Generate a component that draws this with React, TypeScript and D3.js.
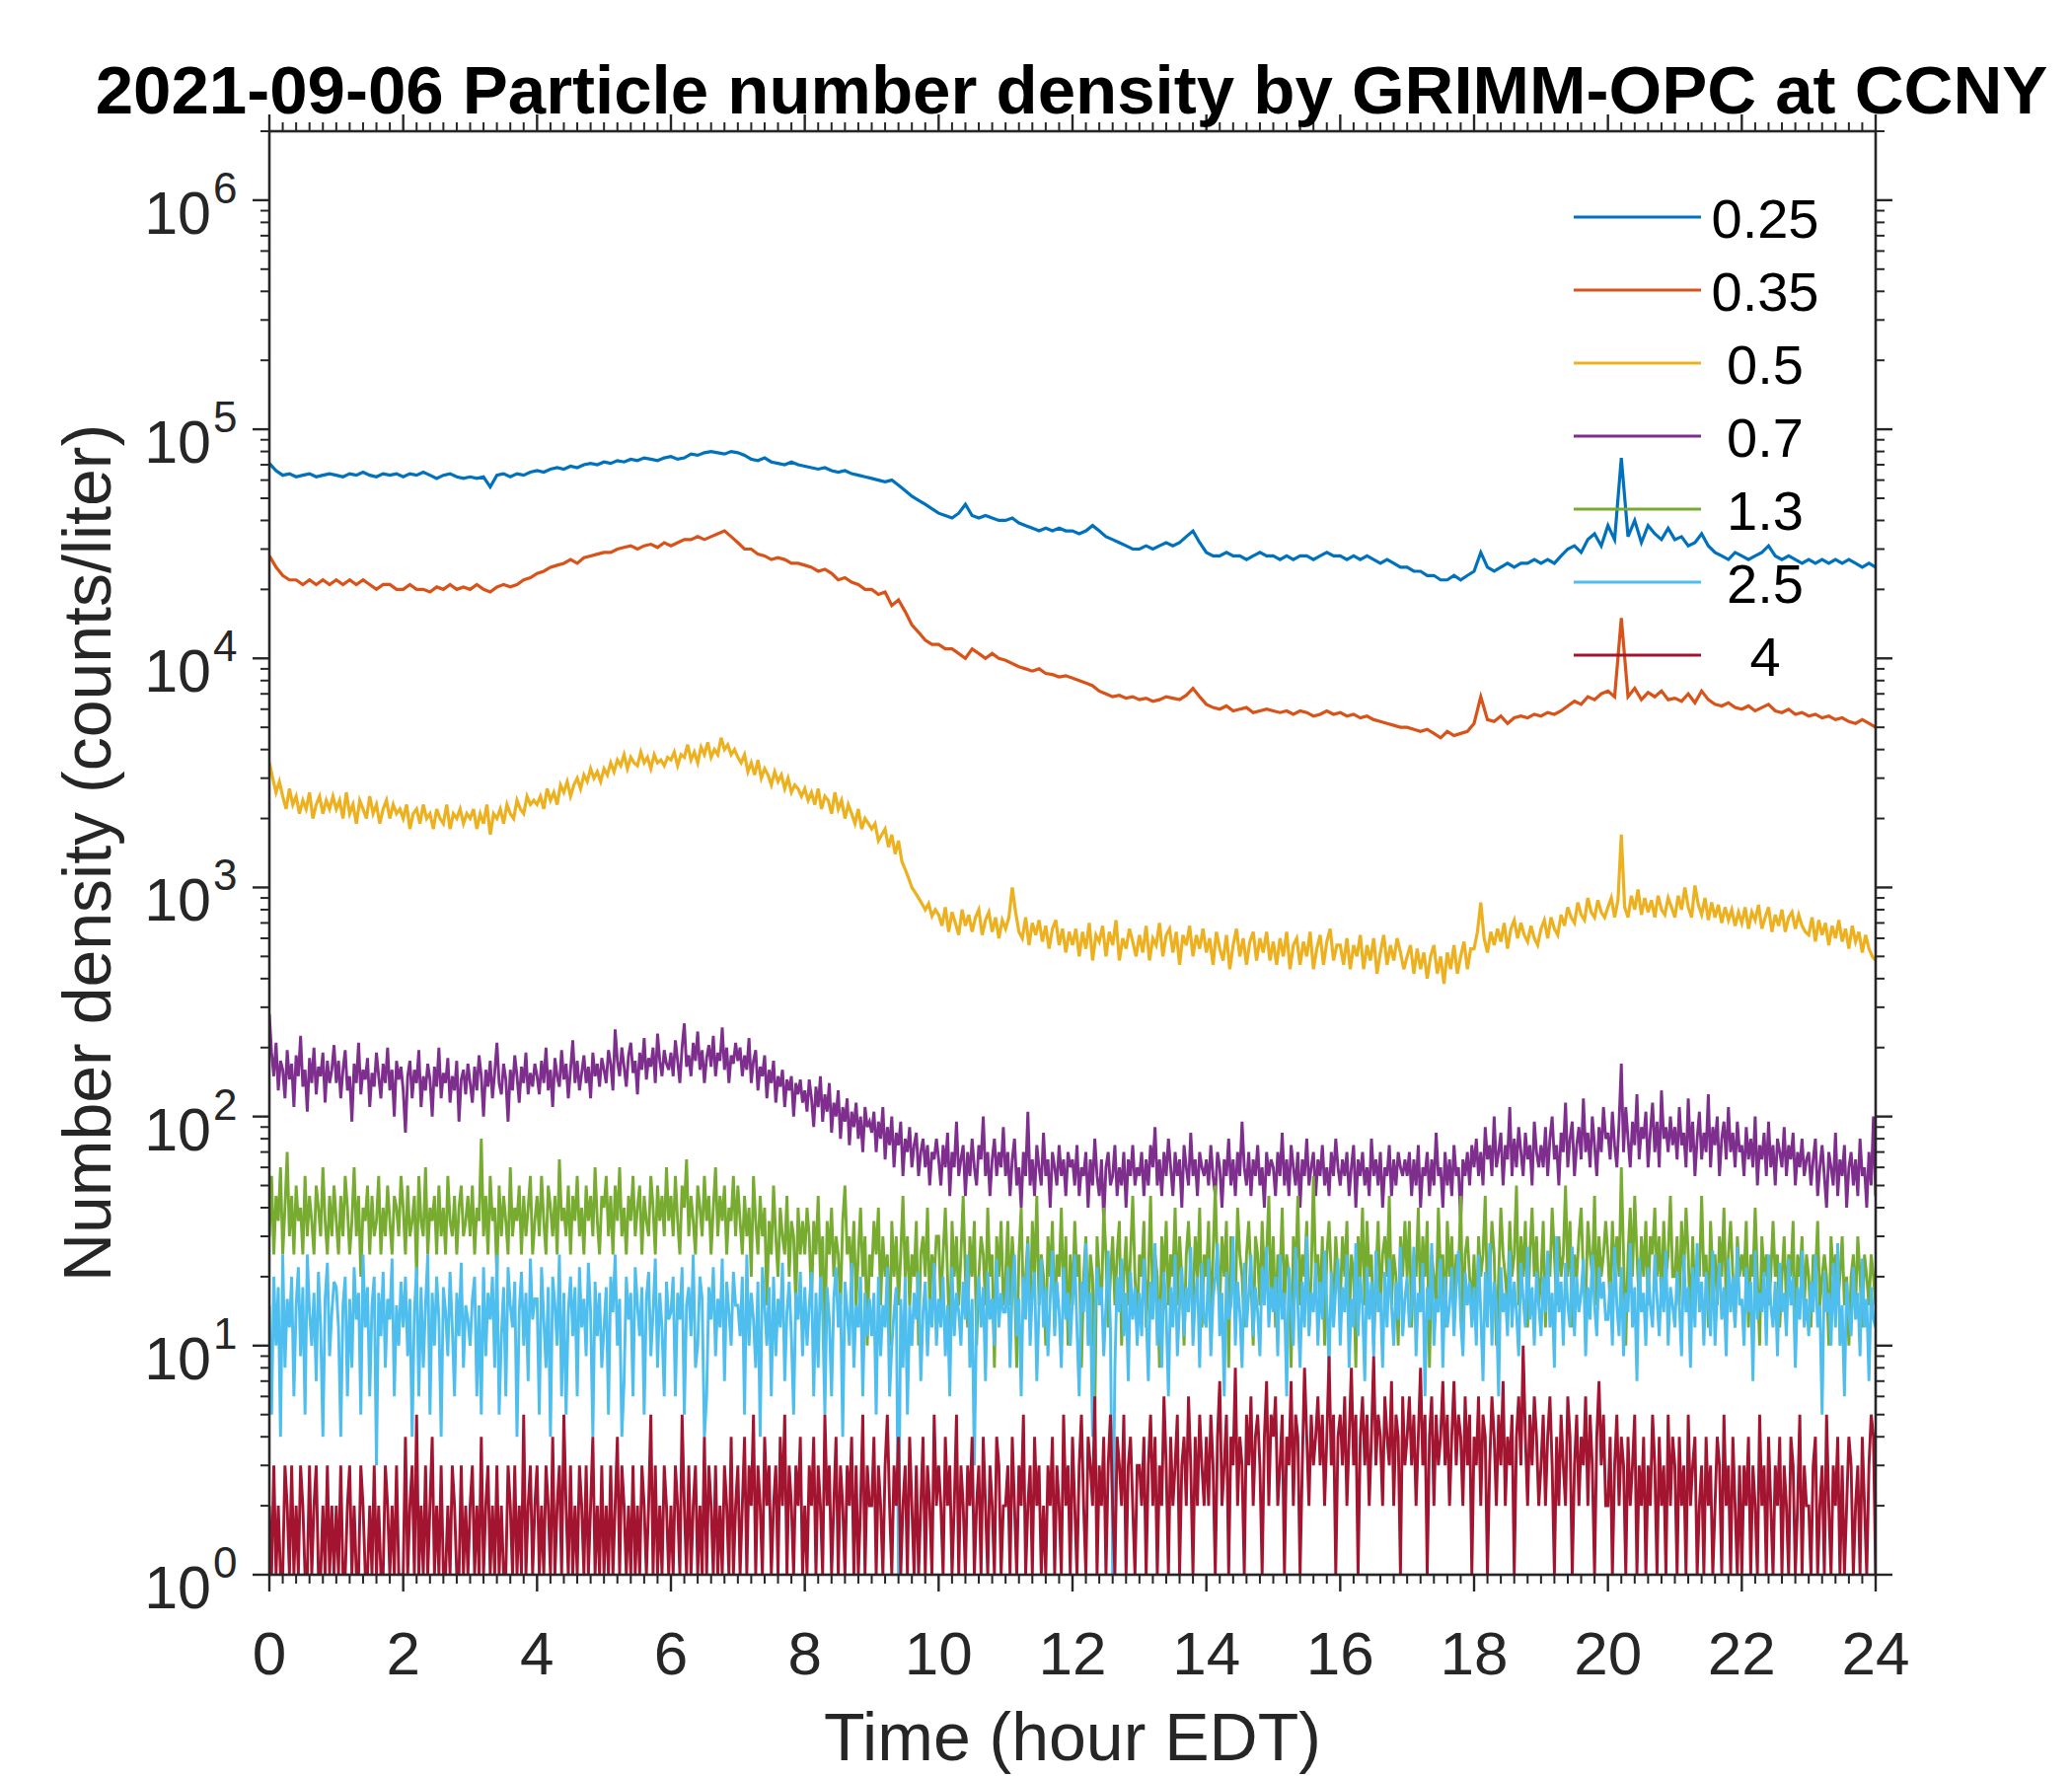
import React from 'react'
import * as d3 from 'd3'

// sizes in micrometres, one series each
const sizeLabels = ['0.25', '0.35', '0.5', '0.7', '1.3', '2.5', '4']
const colors = ['#0072BD', '#D95319', '#EDB120', '#7E2F8E', '#77AC30', '#4DBEEE', '#A2142F']

// every channel is stored as one row per hour (row h covers h .. h+1),
// the last row holds the single reading at 24 h

const ch025 = [
    [71000, 66000, 63000, 64000, 62000, 63000, 64000, 62000, 63000, 64000],
    [63000, 62000, 64000, 63000, 65000, 63000, 62000, 64000, 63000, 64000],
    [62000, 64000, 63000, 65000, 63000, 61000, 63000, 64000, 62000, 61000],
    [62000, 61000, 62000, 56000, 63000, 64000, 62000, 64000, 63000, 65000],
    [66000, 65000, 67000, 68000, 67000, 69000, 68000, 70000, 71000, 70000],
    [72000, 71000, 73000, 72000, 74000, 73000, 75000, 74000, 73000, 75000],
    [76000, 74000, 75000, 78000, 77000, 79000, 80000, 79000, 78000, 80000],
    [79000, 77000, 74000, 73000, 75000, 72000, 71000, 70000, 72000, 70000],
    [69000, 68000, 67000, 68000, 66000, 65000, 66000, 64000, 63000, 62000],
    [61000, 60000, 59000, 60000, 57000, 54000, 51000, 49000, 47000, 45000],
    [43000, 42000, 41000, 43000, 47000, 42000, 41000, 42000, 41000, 40000],
    [40000, 41000, 39000, 38000, 37000, 36000, 37000, 36000, 37000, 36000],
    [36000, 35000, 36000, 38000, 36000, 34000, 33000, 32000, 31000, 30000],
    [30000, 31000, 30000, 31000, 32000, 31000, 32000, 34000, 36000, 32000],
    [29000, 28000, 28000, 29000, 28000, 28000, 27000, 28000, 29000, 28000],
    [28000, 27000, 28000, 27000, 28000, 28000, 27000, 28000, 29000, 28000],
    [28000, 27000, 28000, 27000, 28000, 27000, 26000, 27000, 26000, 25000],
    [25000, 24000, 24000, 23000, 23000, 22000, 22000, 23000, 22000, 23000],
    [24000, 29000, 25000, 24000, 25000, 26000, 25000, 26000, 26000, 27000],
    [26000, 27000, 26000, 28000, 30000, 31000, 29000, 33000, 35000, 31000],
    [38000, 33000, 75000, 34000, 40000, 32000, 38000, 35000, 33000, 37000],
    [33000, 34000, 31000, 32000, 35000, 31000, 29000, 28000, 27000, 29000],
    [28000, 27000, 28000, 29000, 31000, 28000, 27000, 28000, 27000, 26000],
    [27000, 26000, 27000, 26000, 27000, 26000, 27000, 26000, 25000, 26000],
    [25000],
]

const ch035 = [
    [28000, 25000, 23000, 22000, 22000, 21000, 22000, 21000, 22000, 21000],
    [22000, 21000, 22000, 21000, 22000, 21000, 20000, 21000, 21000, 20000],
    [20000, 21000, 20000, 20000, 19500, 20500, 20000, 21000, 20000, 20500],
    [20000, 21000, 20000, 19500, 20500, 21000, 20500, 21000, 22000, 22500],
    [23500, 24000, 25000, 25500, 26000, 27000, 26000, 27500, 28000, 28500],
    [29000, 29000, 30000, 30500, 31000, 30000, 31000, 31500, 30500, 32000],
    [31000, 32000, 33000, 33000, 34000, 33000, 34000, 35000, 36000, 34000],
    [32000, 30000, 30000, 28500, 28000, 27000, 27500, 27000, 26000, 26000],
    [25500, 25000, 24000, 24500, 23500, 22000, 22500, 21500, 21000, 20000],
    [20000, 19000, 19500, 17000, 18000, 16000, 14000, 13000, 12000, 11500],
    [11500, 11000, 11000, 10500, 10000, 11000, 10500, 10000, 10500, 10000],
    [9800, 9500, 9200, 9000, 8800, 9000, 8600, 8500, 8300, 8400],
    [8200, 8000, 7800, 7600, 7200, 7000, 6800, 6900, 6700, 6800],
    [6600, 6700, 6500, 6600, 6800, 6700, 6600, 6900, 7400, 6800],
    [6300, 6100, 6000, 6200, 5900, 6000, 6100, 5800, 5900, 6000],
    [5900, 5800, 5900, 5700, 5900, 5800, 5600, 5700, 5900, 5700],
    [5800, 5600, 5700, 5500, 5600, 5400, 5300, 5200, 5100, 5000],
    [5000, 4900, 4800, 4900, 4700, 4500, 4800, 4600, 4700, 4800],
    [5200, 6800, 5400, 5300, 5600, 5200, 5500, 5600, 5500, 5700],
    [5600, 5800, 5700, 5900, 6200, 6500, 6300, 6800, 6600, 7000],
    [7200, 6800, 15000, 6800, 7400, 6600, 7100, 6800, 7200, 6600],
    [6700, 6500, 7000, 6400, 7200, 6600, 6300, 6200, 6400, 6100],
    [6000, 6200, 5900, 6100, 6300, 5900, 5800, 6000, 5700, 5800],
    [5600, 5700, 5500, 5600, 5400, 5500, 5300, 5200, 5400, 5200],
    [5000],
]

const ch05 = [
    [3500, 3000, 2600, 2900, 2500, 2200, 2700, 2300, 2500, 2100, 2400, 2200, 2600, 2000, 2300, 2500, 2100, 2400, 2200, 2500],
    [2200, 2400, 2000, 2600, 2100, 2300, 1900, 2400, 2200, 2000, 2500, 2100, 2300, 1900, 2200, 2400, 2000, 2300, 2100, 2200],
    [2000, 2300, 1800, 2100, 2200, 1900, 2300, 2000, 2100, 1800, 2200, 2000, 1900, 2300, 1800, 2100, 2000, 2200, 1900, 2100],
    [2000, 2200, 1800, 2100, 1900, 2300, 1700, 2100, 2000, 2200, 1900, 2300, 2100, 2000, 2400, 2200, 2100, 2500, 2300, 2400],
    [2300, 2500, 2200, 2700, 2400, 2600, 2300, 2800, 2600, 2900, 2500, 2800, 3000, 2700, 3100, 2900, 3300, 3000, 3200, 2900],
    [3300, 3100, 3500, 3200, 3600, 3400, 3800, 3300, 3700, 3500, 3400, 3900, 3500, 3700, 3300, 3800, 3500, 3600, 3400, 3700],
    [3600, 3900, 3400, 3800, 3700, 4200, 3600, 3900, 3500, 4100, 3800, 4300, 3700, 4000, 3800, 4500, 4000, 4200, 3800, 4000],
    [3700, 3500, 3800, 3200, 3500, 3100, 3600, 3000, 3300, 3100, 2800, 3200, 2900, 3100, 2700, 3000, 2600, 2800, 2700, 2500],
    [2700, 2400, 2600, 2300, 2700, 2200, 2500, 2400, 2100, 2600, 2200, 2400, 2000, 2300, 2100, 1900, 2200, 1800, 2000, 1900],
    [1800, 1900, 1600, 1700, 1800, 1500, 1700, 1400, 1600, 1300, 1200, 1100, 1000, 950, 900, 850, 800, 850, 750, 800],
    [760, 680, 820, 640, 780, 700, 620, 800, 680, 760, 640, 740, 800, 620, 720, 780, 640, 740, 600, 720],
    [660, 740, 1000, 780, 640, 600, 740, 560, 700, 620, 720, 580, 680, 540, 660, 720, 560, 660, 520, 640],
    [560, 660, 500, 640, 540, 700, 480, 620, 580, 680, 500, 640, 560, 720, 480, 600, 540, 660, 580, 500],
    [620, 520, 680, 480, 600, 560, 700, 500, 620, 660, 520, 640, 460, 620, 560, 680, 500, 620, 540, 660],
    [520, 600, 460, 640, 540, 480, 620, 440, 560, 660, 500, 600, 460, 580, 640, 480, 600, 520, 640, 480],
    [580, 460, 600, 500, 640, 440, 560, 600, 460, 580, 500, 640, 440, 540, 620, 460, 580, 660, 480, 560],
    [560, 460, 600, 440, 560, 500, 620, 440, 560, 480, 600, 420, 520, 620, 460, 560, 480, 600, 520, 440],
    [500, 560, 420, 540, 440, 520, 400, 500, 560, 420, 500, 380, 520, 440, 560, 420, 500, 580, 440, 540],
    [540, 640, 860, 600, 520, 640, 560, 660, 580, 700, 540, 660, 720, 600, 700, 620, 580, 680, 600, 560],
    [660, 720, 600, 740, 660, 620, 760, 680, 820, 740, 700, 860, 760, 720, 900, 780, 740, 880, 780, 740],
    [820, 900, 740, 880, 1700, 820, 740, 920, 800, 980, 760, 900, 780, 880, 740, 920, 800, 760, 900, 820],
    [740, 920, 800, 1000, 820, 740, 1020, 840, 760, 900, 720, 860, 740, 840, 700, 820, 720, 800, 680, 780],
    [700, 820, 660, 780, 720, 840, 660, 740, 820, 640, 760, 680, 800, 640, 740, 780, 660, 760, 680, 640],
    [620, 740, 580, 720, 620, 700, 560, 680, 600, 720, 580, 660, 540, 680, 580, 640, 520, 620, 540, 500],
    [480],
]

const ch07 = [
    [280, 190, 150, 210, 130, 175, 160, 120, 195, 145, 170, 110, 185, 150, 225, 135, 160, 105, 180, 140, 200, 125, 165, 150, 190, 115, 175, 140, 160, 205],
    [140, 175, 120, 160, 195, 130, 150, 95, 170, 140, 210, 125, 160, 145, 180, 110, 155, 135, 190, 150, 120, 170, 140, 200, 130, 160, 100, 175, 145, 165],
    [130, 85, 150, 175, 120, 160, 140, 195, 110, 150, 130, 170, 145, 100, 165, 135, 200, 120, 155, 140, 180, 115, 150, 130, 175, 95, 145, 160, 125, 170],
    [140, 115, 165, 130, 185, 150, 100, 160, 135, 175, 120, 155, 210, 140, 125, 170, 145, 95, 160, 130, 185, 150, 115, 165, 140, 190, 125, 155, 135, 170],
    [150, 125, 175, 140, 200, 130, 160, 110, 180, 150, 135, 195, 145, 170, 120, 160, 215, 140, 175, 130, 155, 185, 140, 165, 120, 190, 150, 170, 135, 180],
    [160, 140, 195, 170, 130, 240, 175, 150, 200, 165, 135, 185, 210, 155, 175, 125, 190, 160, 220, 145, 180, 165, 200, 140, 230, 175, 150, 195, 170, 160],
    [190, 150, 215, 175, 140, 200, 255, 165, 185, 150, 210, 175, 235, 160, 195, 140, 180, 205, 165, 225, 150, 190, 175, 245, 160, 200, 140, 185, 170, 210],
    [175, 200, 150, 185, 160, 220, 140, 175, 195, 130, 165, 150, 185, 120, 160, 140, 175, 115, 150, 135, 160, 110, 145, 130, 150, 100, 140, 125, 145, 115],
    [130, 105, 145, 120, 90, 135, 110, 150, 95, 125, 105, 140, 85, 115, 100, 130, 80, 110, 95, 120, 75, 105, 90, 115, 80, 100, 70, 110, 90, 95],
    [85, 105, 70, 95, 80, 110, 65, 90, 75, 100, 60, 85, 75, 95, 55, 80, 70, 90, 60, 75, 85, 55, 70, 80, 60, 75, 50, 70, 65, 80],
    [65, 50, 75, 60, 85, 45, 70, 60, 95, 55, 65, 75, 45, 70, 55, 80, 60, 50, 75, 65, 100, 55, 70, 45, 65, 80, 55, 70, 60, 90],
    [55, 70, 45, 65, 80, 50, 60, 40, 70, 55, 105, 50, 65, 45, 75, 60, 50, 85, 55, 65, 40, 70, 60, 50, 75, 55, 65, 45, 70, 60],
    [65, 50, 75, 45, 60, 55, 70, 40, 65, 50, 80, 55, 45, 65, 35, 60, 70, 50, 55, 75, 45, 60, 50, 70, 40, 65, 55, 75, 50, 60],
    [55, 70, 45, 65, 50, 75, 60, 90, 50, 65, 45, 70, 55, 80, 60, 45, 70, 55, 65, 40, 75, 60, 50, 85, 55, 65, 45, 70, 60, 55],
    [65, 50, 75, 55, 45, 70, 60, 40, 65, 55, 80, 50, 65, 45, 70, 55, 95, 60, 50, 70, 45, 65, 55, 75, 50, 60, 40, 70, 55, 65],
    [60, 45, 70, 55, 85, 50, 65, 45, 75, 60, 50, 70, 40, 65, 55, 80, 50, 60, 70, 45, 65, 55, 75, 50, 60, 45, 70, 55, 80, 60],
    [50, 65, 55, 70, 45, 60, 75, 40, 65, 55, 70, 50, 60, 45, 80, 55, 65, 50, 70, 40, 60, 55, 75, 45, 65, 50, 70, 60, 55, 65],
    [55, 70, 45, 65, 50, 75, 40, 60, 55, 70, 45, 65, 50, 85, 55, 60, 40, 70, 50, 65, 45, 75, 55, 60, 35, 65, 55, 70, 50, 75],
    [60, 80, 55, 70, 50, 90, 65, 75, 55, 100, 60, 70, 85, 50, 75, 65, 110, 55, 80, 60, 90, 70, 55, 85, 65, 75, 50, 95, 70, 60],
    [75, 60, 90, 55, 80, 100, 65, 75, 50, 85, 70, 115, 60, 80, 95, 55, 75, 90, 65, 120, 70, 85, 60, 100, 75, 55, 90, 70, 110, 80],
    [85, 65, 105, 75, 60, 95, 170, 70, 110, 80, 60, 95, 75, 125, 65, 90, 80, 105, 60, 85, 115, 70, 95, 60, 130, 80, 90, 70, 100, 75],
    [90, 65, 110, 75, 85, 60, 120, 70, 95, 55, 80, 105, 65, 85, 70, 125, 60, 90, 75, 100, 55, 80, 95, 65, 110, 70, 85, 60, 95, 70],
    [75, 55, 90, 65, 80, 60, 100, 50, 75, 65, 85, 55, 95, 60, 75, 50, 80, 70, 60, 90, 55, 75, 65, 85, 50, 70, 60, 80, 55, 65],
    [70, 50, 65, 80, 45, 60, 75, 55, 40, 70, 60, 50, 85, 45, 65, 55, 75, 40, 60, 70, 50, 65, 45, 80, 55, 60, 40, 70, 50, 100],
    [45],
]

const ch13 = [
    [30, 55, 25, 45, 35, 60, 25, 40, 70, 30, 45, 25, 50, 35, 40, 25, 55, 30, 45, 35, 25, 50, 40, 30, 60, 35, 25, 45, 30, 50],
    [35, 25, 45, 30, 55, 40, 25, 35, 60, 30, 45, 20, 40, 35, 50, 25, 45, 30, 35, 55, 25, 40, 30, 50, 35, 25, 45, 40, 30, 55],
    [40, 25, 50, 30, 35, 45, 20, 55, 35, 30, 60, 25, 40, 35, 45, 25, 50, 30, 40, 25, 55, 35, 30, 45, 25, 40, 50, 30, 35, 45],
    [30, 50, 25, 40, 35, 80, 30, 45, 25, 55, 35, 40, 20, 50, 30, 45, 35, 25, 60, 30, 40, 35, 50, 25, 45, 30, 40, 55, 25, 35],
    [45, 30, 55, 35, 25, 50, 40, 30, 45, 25, 65, 35, 40, 30, 50, 25, 45, 35, 55, 30, 40, 25, 50, 35, 45, 30, 60, 35, 25, 45],
    [40, 55, 30, 45, 25, 50, 35, 60, 30, 40, 25, 45, 35, 55, 30, 40, 50, 25, 45, 35, 30, 55, 40, 25, 50, 35, 45, 30, 60, 35],
    [45, 30, 55, 35, 25, 50, 40, 65, 30, 45, 35, 25, 50, 40, 30, 55, 35, 45, 25, 40, 60, 30, 45, 35, 50, 25, 40, 35, 55, 30],
    [50, 35, 25, 45, 30, 40, 20, 55, 35, 25, 45, 30, 40, 15, 35, 25, 50, 30, 20, 40, 30, 25, 45, 20, 35, 30, 15, 40, 25, 35],
    [25, 40, 30, 15, 35, 25, 45, 20, 30, 10, 35, 25, 40, 20, 30, 25, 15, 35, 50, 25, 30, 20, 35, 15, 25, 40, 20, 30, 10, 25],
    [20, 35, 25, 40, 15, 30, 20, 25, 10, 35, 20, 30, 15, 25, 45, 20, 30, 15, 25, 20, 35, 10, 25, 30, 20, 40, 15, 25, 20, 30],
    [30, 15, 25, 40, 20, 10, 35, 20, 30, 15, 25, 45, 20, 12, 30, 20, 35, 10, 20, 30, 25, 15, 40, 20, 25, 8, 30, 20, 35, 15],
    [20, 35, 15, 30, 20, 8, 25, 40, 15, 20, 30, 12, 35, 20, 45, 15, 25, 20, 10, 30, 20, 35, 12, 25, 20, 40, 15, 30, 10, 25],
    [15, 35, 20, 25, 8, 20, 30, 12, 25, 20, 5, 30, 20, 15, 40, 25, 12, 20, 30, 15, 25, 35, 10, 20, 30, 15, 25, 45, 20, 12],
    [25, 20, 35, 12, 20, 45, 15, 25, 20, 8, 30, 20, 35, 15, 25, 20, 40, 15, 30, 20, 10, 25, 35, 20, 15, 30, 20, 40, 12, 25],
    [20, 35, 12, 25, 50, 20, 15, 30, 20, 35, 8, 30, 20, 15, 40, 25, 20, 12, 25, 35, 20, 10, 30, 25, 15, 35, 20, 25, 45, 15],
    [30, 12, 25, 20, 40, 15, 25, 20, 8, 30, 20, 45, 15, 25, 20, 35, 12, 20, 55, 20, 25, 15, 30, 10, 25, 35, 20, 15, 30, 20],
    [15, 30, 20, 35, 12, 25, 20, 8, 30, 20, 40, 15, 35, 20, 25, 10, 20, 35, 15, 25, 30, 20, 45, 15, 25, 20, 10, 30, 20, 35],
    [20, 35, 12, 25, 20, 40, 15, 30, 20, 35, 8, 25, 20, 15, 40, 20, 25, 12, 35, 20, 30, 15, 25, 20, 45, 12, 25, 30, 20, 15],
    [25, 12, 30, 20, 25, 45, 15, 20, 35, 25, 10, 20, 40, 25, 20, 15, 35, 20, 25, 50, 15, 30, 20, 35, 12, 25, 40, 20, 30, 15],
    [20, 35, 12, 25, 20, 40, 25, 15, 30, 20, 25, 50, 20, 35, 12, 25, 20, 30, 40, 20, 15, 35, 25, 20, 45, 15, 30, 20, 25, 35],
    [25, 15, 35, 20, 30, 20, 60, 25, 10, 25, 40, 20, 45, 25, 15, 30, 20, 35, 15, 30, 25, 40, 20, 30, 15, 35, 20, 25, 45, 20],
    [20, 30, 15, 35, 20, 40, 25, 12, 30, 15, 25, 20, 45, 20, 25, 12, 35, 20, 25, 15, 30, 20, 40, 15, 25, 35, 20, 12, 30, 20],
    [25, 20, 35, 12, 25, 20, 40, 20, 10, 30, 20, 25, 15, 20, 35, 20, 25, 12, 20, 30, 15, 25, 20, 35, 10, 25, 20, 30, 15, 25],
    [20, 12, 25, 20, 35, 15, 20, 25, 20, 10, 30, 20, 25, 15, 20, 30, 15, 20, 10, 20, 25, 15, 30, 20, 12, 25, 20, 15, 25, 20],
    [15],
]

const ch25 = [
    [15, 5, 20, 10, 18, 4, 25, 8, 16, 12, 20, 6, 15, 22, 9, 18, 5, 25, 14, 10, 17, 7, 21, 12, 4, 16, 23, 9, 14, 19],
    [18, 12, 4, 15, 20, 6, 16, 8, 22, 13, 17, 5, 25, 12, 18, 6, 15, 20, 3, 17, 11, 21, 8, 16, 13, 24, 6, 15, 10, 19],
    [12, 20, 9, 16, 4, 14, 22, 6, 18, 8, 15, 25, 5, 17, 10, 20, 13, 4, 18, 14, 9, 21, 12, 6, 17, 11, 23, 8, 15, 13],
    [10, 16, 20, 6, 15, 5, 22, 9, 17, 13, 20, 8, 25, 5, 11, 18, 6, 22, 15, 12, 19, 4, 14, 21, 10, 17, 7, 24, 13, 16],
    [16, 5, 22, 13, 8, 18, 4, 20, 15, 10, 25, 6, 17, 5, 14, 20, 11, 18, 6, 22, 12, 16, 9, 23, 14, 4, 19, 11, 17, 8],
    [12, 18, 5, 20, 14, 25, 10, 16, 4, 7, 20, 13, 17, 6, 22, 15, 11, 18, 5, 16, 21, 9, 14, 24, 8, 17, 12, 6, 19, 13],
    [14, 20, 6, 17, 13, 22, 5, 15, 18, 11, 25, 8, 10, 20, 16, 4, 6, 18, 13, 22, 9, 16, 12, 24, 7, 19, 14, 10, 21, 15],
    [15, 11, 20, 5, 25, 10, 17, 13, 8, 19, 4, 22, 15, 10, 18, 6, 20, 9, 16, 12, 23, 7, 14, 19, 11, 5, 17, 13, 21, 9],
    [18, 10, 15, 21, 6, 17, 8, 20, 14, 5, 18, 13, 6, 16, 22, 12, 17, 4, 19, 14, 10, 23, 8, 15, 12, 20, 6, 17, 11, 16],
    [11, 17, 5, 20, 9, 15, 12, 22, 6, 10, 14, 18, 1, 16, 8, 20, 5, 15, 10, 17, 13, 21, 7, 14, 19, 9, 16, 12, 23, 10],
    [16, 12, 20, 9, 15, 6, 22, 11, 17, 14, 10, 19, 13, 25, 8, 16, 3, 14, 20, 12, 18, 7, 21, 13, 16, 10, 24, 12, 17, 14],
    [14, 22, 8, 18, 25, 11, 16, 6, 20, 13, 28, 10, 17, 21, 7, 15, 24, 12, 18, 9, 16, 26, 11, 19, 14, 8, 22, 13, 17, 10],
    [16, 25, 12, 6, 19, 14, 28, 10, 17, 4, 13, 22, 15, 18, 9, 15, 26, 12, 1, 8, 20, 14, 24, 11, 17, 7, 21, 13, 18, 10],
    [17, 11, 24, 14, 7, 19, 13, 28, 10, 16, 8, 21, 14, 6, 18, 12, 25, 9, 15, 22, 11, 18, 14, 27, 10, 16, 20, 8, 23, 13],
    [12, 24, 9, 16, 20, 28, 11, 17, 6, 21, 13, 15, 30, 10, 19, 14, 8, 23, 12, 17, 25, 11, 18, 14, 9, 22, 15, 27, 12, 18],
    [14, 20, 9, 25, 13, 17, 6, 22, 15, 10, 27, 15, 8, 19, 12, 30, 11, 17, 14, 23, 10, 19, 13, 26, 15, 8, 21, 12, 18, 24],
    [10, 18, 14, 25, 8, 16, 12, 28, 11, 20, 15, 7, 22, 13, 19, 9, 26, 14, 17, 8, 21, 12, 24, 15, 10, 19, 13, 27, 11, 16],
    [20, 12, 15, 27, 9, 17, 14, 23, 6, 18, 13, 28, 10, 16, 14, 24, 8, 20, 12, 15, 22, 11, 18, 26, 13, 9, 21, 15, 19, 12],
    [18, 10, 25, 14, 7, 21, 12, 28, 10, 19, 15, 6, 22, 14, 17, 11, 26, 12, 19, 14, 9, 23, 16, 12, 27, 13, 18, 10, 21, 15],
    [11, 20, 14, 26, 12, 17, 8, 30, 14, 19, 10, 23, 15, 12, 27, 11, 20, 14, 17, 24, 9, 18, 13, 25, 15, 11, 22, 16, 19, 13],
    [13, 19, 10, 27, 15, 11, 22, 9, 17, 14, 28, 12, 18, 7, 24, 14, 17, 10, 22, 15, 12, 25, 16, 11, 20, 14, 26, 10, 18, 15],
    [12, 21, 15, 9, 25, 14, 18, 8, 22, 12, 28, 14, 19, 10, 21, 15, 11, 26, 10, 17, 23, 13, 18, 9, 24, 14, 20, 12, 27, 15],
    [16, 10, 22, 14, 19, 7, 26, 13, 17, 14, 21, 10, 25, 15, 12, 19, 9, 23, 14, 17, 11, 24, 15, 20, 8, 18, 13, 26, 12, 16],
    [11, 19, 14, 25, 12, 15, 5, 21, 14, 17, 10, 23, 12, 28, 10, 15, 6, 19, 14, 11, 22, 13, 17, 9, 24, 12, 16, 7, 18, 13],
    [12],
]

const ch4 = [
    [2, 1, 3, 1, 2, 1, 1, 3, 2, 1, 3, 1, 2, 1, 3, 2, 1, 1, 3, 1, 2, 3, 1, 1, 2, 1, 3, 1, 2, 1],
    [2, 1, 3, 1, 1, 2, 3, 1, 2, 1, 1, 3, 2, 1, 1, 2, 1, 3, 1, 2, 1, 1, 3, 2, 1, 2, 1, 3, 1, 1],
    [1, 4, 1, 2, 3, 1, 5, 1, 2, 1, 3, 1, 2, 4, 1, 2, 1, 3, 1, 1, 2, 1, 3, 2, 1, 1, 3, 1, 2, 1],
    [2, 3, 1, 2, 1, 4, 1, 2, 3, 1, 2, 1, 3, 1, 2, 1, 1, 3, 2, 1, 3, 1, 2, 1, 5, 1, 2, 3, 1, 2],
    [3, 1, 2, 1, 3, 2, 1, 4, 1, 2, 3, 1, 5, 2, 1, 3, 1, 2, 1, 3, 2, 1, 3, 1, 2, 4, 1, 2, 1, 3],
    [1, 2, 1, 3, 1, 2, 4, 1, 3, 2, 1, 2, 1, 3, 1, 2, 1, 3, 2, 1, 2, 5, 1, 3, 1, 2, 1, 3, 2, 1],
    [2, 1, 3, 2, 1, 5, 2, 1, 3, 1, 2, 3, 1, 2, 1, 4, 1, 3, 2, 1, 3, 1, 2, 1, 3, 2, 1, 4, 1, 2],
    [3, 1, 2, 4, 1, 3, 2, 5, 1, 3, 2, 1, 4, 2, 3, 1, 2, 3, 1, 4, 2, 5, 1, 3, 2, 1, 3, 2, 4, 1],
    [2, 1, 3, 2, 4, 1, 3, 2, 1, 5, 2, 3, 1, 2, 4, 1, 3, 2, 1, 3, 2, 4, 1, 3, 1, 2, 5, 1, 3, 2],
    [2, 4, 1, 3, 2, 1, 3, 5, 2, 1, 3, 2, 4, 1, 2, 3, 1, 4, 2, 1, 3, 1, 2, 4, 1, 3, 2, 1, 5, 2],
    [3, 2, 1, 4, 2, 3, 1, 2, 5, 1, 3, 2, 1, 3, 2, 4, 1, 2, 3, 1, 4, 2, 1, 3, 2, 1, 4, 3, 1, 2],
    [2, 3, 1, 4, 2, 1, 3, 2, 5, 1, 2, 3, 1, 4, 2, 3, 1, 2, 1, 3, 2, 4, 1, 3, 2, 1, 5, 2, 3, 1],
    [4, 2, 1, 3, 5, 2, 1, 4, 3, 2, 6, 1, 3, 2, 4, 1, 3, 5, 2, 1, 4, 3, 2, 5, 1, 3, 4, 2, 1, 3],
    [3, 2, 4, 1, 3, 5, 2, 4, 1, 3, 2, 6, 3, 1, 4, 2, 3, 5, 1, 3, 4, 2, 6, 3, 1, 4, 2, 5, 3, 2],
    [4, 2, 5, 3, 1, 4, 7, 2, 3, 5, 1, 4, 3, 8, 2, 4, 3, 1, 5, 3, 6, 2, 4, 5, 3, 1, 4, 7, 2, 5],
    [4, 6, 2, 3, 5, 1, 4, 3, 7, 2, 5, 4, 1, 3, 8, 4, 2, 5, 3, 4, 6, 3, 5, 2, 4, 9, 3, 5, 1, 4],
    [5, 3, 6, 2, 4, 8, 3, 5, 1, 4, 6, 3, 5, 2, 4, 9, 3, 5, 4, 2, 6, 4, 3, 7, 2, 5, 4, 1, 6, 3],
    [4, 6, 3, 5, 2, 4, 8, 3, 5, 1, 4, 6, 2, 5, 3, 4, 7, 3, 5, 2, 4, 7, 3, 5, 4, 2, 6, 3, 5, 1],
    [4, 3, 6, 2, 5, 4, 1, 3, 6, 4, 2, 5, 3, 7, 2, 4, 3, 5, 1, 4, 6, 3, 10, 4, 2, 5, 3, 6, 4, 2],
    [3, 5, 2, 4, 6, 3, 1, 4, 2, 5, 3, 2, 6, 4, 1, 3, 5, 2, 4, 3, 6, 2, 5, 3, 1, 4, 7, 3, 5, 2],
    [2, 4, 1, 3, 5, 2, 4, 3, 1, 4, 2, 3, 5, 1, 3, 2, 4, 1, 3, 2, 5, 3, 1, 4, 2, 3, 1, 5, 2, 4],
    [3, 1, 4, 2, 3, 1, 5, 2, 3, 4, 1, 2, 3, 1, 4, 2, 3, 1, 2, 4, 3, 1, 5, 2, 3, 1, 4, 2, 1, 3],
    [1, 3, 2, 4, 1, 3, 2, 1, 5, 2, 3, 1, 4, 2, 1, 3, 2, 4, 1, 3, 2, 1, 4, 3, 1, 2, 5, 1, 3, 2],
    [2, 1, 3, 4, 1, 2, 3, 1, 5, 2, 1, 3, 2, 4, 1, 3, 1, 2, 4, 3, 1, 2, 3, 1, 4, 2, 1, 3, 5, 4],
    [1],
]

const channels = [
    { rows: ch025, width: 3.2 },
    { rows: ch035, width: 3.2 },
    { rows: ch05, width: 3.2 },
    { rows: ch07, width: 2.9 },
    { rows: ch13, width: 2.9 },
    { rows: ch25, width: 2.9 },
    { rows: ch4, width: 2.9 },
]

const xTicks = [0, 2, 4, 6, 8, 10, 12, 14, 16, 18, 20, 22, 24]
const yExponents = [0, 1, 2, 3, 4, 5, 6]

const W = 2100
const H = 1800
const left = 273
const right = 1901
const top = 133
const bottom = 1596
const axisColor = '#262626'
const font = '"Liberation Sans", Arial, Helvetica, sans-serif'

const App = () => {
    const x = d3.scaleLinear().domain([0, 24]).range([left, right])
    const y = d3.scaleLog().domain([1, 2e6]).range([bottom, top])

    const line = d3.line<[number, number]>()
        .defined(d => d[1] > 0)
        .x(d => x(d[0]))
        .y(d => y(d[1]))

    // minor ticks
    const xMinor = d3.range(0, 24.001, 0.2).filter(t => Math.abs(t / 2 - Math.round(t / 2)) > 1e-6)
    const yMinor: number[] = []
    for (let e = 0; e <= 6; e++) {
        for (let m = 2; m <= 9; m++) {
            const v = m * Math.pow(10, e)
            if (v <= 2e6) yMinor.push(v)
        }
    }

    const majorLen = 17
    const minorLen = 9

    const legendX0 = 1595
    const legendX1 = 1724
    const legendRow0 = 220
    const legendGap = 74

    return (
        <svg width={W} height={H} style={{ position: 'absolute', left: 0, top: 0, background: '#fff' }}>
            <rect x={0} y={0} width={W} height={H} fill="#fff" />
            <defs>
                <clipPath id="plotArea">
                    <rect x={left} y={top} width={right - left} height={bottom - top} />
                </clipPath>
            </defs>

            <g clipPath="url(#plotArea)">
                {channels.map((c, i) => {
                    const pts = c.rows.flatMap((row, h) =>
                        row.map((v, j) => [h + j / row.length, v] as [number, number]))
                    return <path key={`line-${i}`} d={line(pts) || ''} fill="none"
                                 stroke={colors[i]} strokeWidth={c.width} strokeLinejoin="miter" />
                })}
            </g>

            {/* legend */}
            {sizeLabels.map((s, i) => {
                const ly = legendRow0 + i * legendGap
                return (
                    <g key={`leg-${i}`}>
                        <line x1={legendX0} x2={legendX1} y1={ly} y2={ly} stroke={colors[i]} strokeWidth={3} />
                        <text x={1789} y={ly + 21} textAnchor="middle" fontFamily={font} fontSize={56} fill="#000">{s}</text>
                    </g>
                )
            })}

            {/* box */}
            <rect x={left} y={top} width={right - left} height={bottom - top} fill="none" stroke={axisColor} strokeWidth={2.6} />

            {/* x ticks, bottom and top */}
            {xTicks.map(t => (
                <g key={`xt-${t}`}>
                    <line x1={x(t)} x2={x(t)} y1={bottom} y2={bottom + majorLen} stroke={axisColor} strokeWidth={2.4} />
                    <line x1={x(t)} x2={x(t)} y1={top} y2={top - majorLen} stroke={axisColor} strokeWidth={2.4} />
                    <text x={x(t)} y={1697} textAnchor="middle" fontFamily={font} fontSize={62} fill={axisColor}>{t}</text>
                </g>
            ))}
            {xMinor.map((t, i) => (
                <g key={`xm-${i}`}>
                    <line x1={x(t)} x2={x(t)} y1={bottom} y2={bottom + minorLen} stroke={axisColor} strokeWidth={2} />
                    <line x1={x(t)} x2={x(t)} y1={top} y2={top - minorLen} stroke={axisColor} strokeWidth={2} />
                </g>
            ))}

            {/* y ticks, left and right */}
            {yExponents.map(e => {
                const yy = y(Math.pow(10, e))
                return (
                    <g key={`yt-${e}`}>
                        <line x1={left} x2={left - majorLen} y1={yy} y2={yy} stroke={axisColor} strokeWidth={2.4} />
                        <line x1={right} x2={right + majorLen} y1={yy} y2={yy} stroke={axisColor} strokeWidth={2.4} />
                        <text x={214} y={yy + 34} textAnchor="end" fontFamily={font} fontSize={61} fill={axisColor}>10</text>
                        <text x={216} y={yy + 3} textAnchor="start" fontFamily={font} fontSize={44} fill={axisColor}>{e}</text>
                    </g>
                )
            })}
            {yMinor.map((v, i) => (
                <g key={`ym-${i}`}>
                    <line x1={left} x2={left - minorLen} y1={y(v)} y2={y(v)} stroke={axisColor} strokeWidth={2} />
                    <line x1={right} x2={right + minorLen} y1={y(v)} y2={y(v)} stroke={axisColor} strokeWidth={2} />
                </g>
            ))}

            {/* labels */}
            <text x={(left + right) / 2} y={1784} textAnchor="middle" fontFamily={font} fontSize={68} fill={axisColor}>
                Time (hour EDT)
            </text>
            <text transform={`translate(112, ${(top + bottom) / 2}) rotate(-90)`} textAnchor="middle"
                  fontFamily={font} fontSize={68} fill={axisColor}>
                Number density (counts/liter)
            </text>
            <text x={1086} y={115} textAnchor="middle" fontFamily={font} fontSize={69} fontWeight="bold" fill="#000">
                2021-09-06 Particle number density by GRIMM-OPC at CCNY
            </text>
        </svg>
    )
}

export default App
